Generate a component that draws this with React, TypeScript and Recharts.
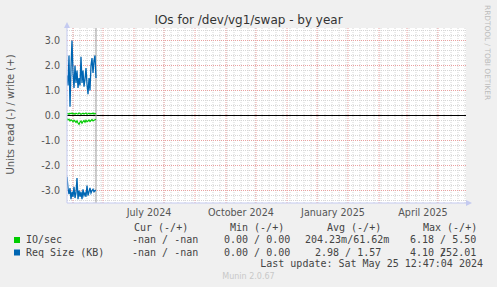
import React from "react";
import {
  LineChart,
  Line,
  XAxis,
  YAxis,
  CartesianGrid,
  ReferenceLine,
} from "recharts";

// days counted from 1 May 2024
const days = [
  -36, -35, -34, -33, -32, -31, -30, -29, -28, -27, -26, -25, -24, -23, -22,
  -21, -20, -19, -18, -17, -16, -15, -14, -13, -12, -11, -10, -9, -8, -7,
];

const reqWrite = [
  1.6, 1.2, 2.4, 0.35, 1.9, 3.0, 1.7, 1.1, 2.0, 1.3, 1.8, 1.1, 1.5, 1.2, 2.35,
  1.3, 1.8, 1.15, 1.45, 1.9, 1.25, 0.85, 1.5, 1.0, 2.0, 2.3, 1.7, 2.2, 2.4, 1.5,
];
const reqRead = [
  -2.45, -2.9, -3.15, -2.9, -3.35, -3.05, -3.25, -2.85, -3.3, -3.1, -2.5, -3.35,
  -3.0, -3.25, -3.05, -3.35, -2.95, -3.2, -3.1, -3.25, -2.8, -3.2, -3.05, -2.9,
  -3.1, -3.0, -2.95, -3.05, -3.0, -3.0,
];
const ioWrite = [
  0.06, 0.08, 0.05, 0.09, 0.07, 0.1, 0.06, 0.08, 0.05, 0.09, 0.07, 0.06, 0.1,
  0.08, 0.05, 0.07, 0.09, 0.06, 0.08, 0.1, 0.05, 0.07, 0.09, 0.06, 0.08, 0.07,
  0.1, 0.06, 0.08, 0.07,
];
const ioRead = [
  -0.12, -0.18, -0.15, -0.22, -0.17, -0.2, -0.25, -0.19, -0.23, -0.28, -0.21,
  -0.3, -0.35, -0.26, -0.22, -0.31, -0.24, -0.2, -0.27, -0.19, -0.25, -0.22,
  -0.18, -0.24, -0.2, -0.16, -0.22, -0.19, -0.17, -0.15,
];

const monthLines = [-30, 0, 31, 61, 92, 123, 153, 184, 214, 245, 276, 304, 335];
const monthLabelDays = [46, 138, 230, 320];
const monthLabels = ["July 2024", "October 2024", "January 2025", "April 2025"];
const yTicks = [-3, -2, -1, 0, 1, 2, 3];

const legendHeader = ["Cur (-/+)", "Min (-/+)", "Avg (-/+)", "Max (-/+)"];
const ioLegend = ["-nan / -nan", "0.00 / 0.00", "204.23m/61.62m", "6.18 / 5.50"];
const reqLegend = ["-nan / -nan", "0.00 / 0.00", "2.98 / 1.57", "4.10 252.01"];

const data = days.map((d, i) => ({
  day: d,
  ioWrite: ioWrite[i],
  ioRead: ioRead[i],
  reqWrite: reqWrite[i],
  reqRead: reqRead[i],
}));

// grid helpers (weekly / 0.2 steps)
const weekLines = Array.from({ length: 57 }, (_, i) => -30 + i * 7);
const minorY = Array.from({ length: 35 }, (_, i) => Math.round((-3.4 + i * 0.2) * 10) / 10).filter(
  (v) => !Number.isInteger(v)
);

const axisColor = "#c4caf0";
const mono = "DejaVu Sans Mono";

export default function App() {
  return (
    <div
      style={{
        position: "absolute",
        left: 0,
        top: 0,
        width: 497,
        height: 287,
        background: "#f0f0f0",
        fontFamily: "DejaVu Sans",
      }}
    >
      <LineChart
        width={497}
        height={287}
        data={data}
        margin={{ top: 28, right: 31, bottom: 54, left: 7 }}
      >
        <CartesianGrid fill="#ffffff" horizontal={false} vertical={false} />
        {weekLines.map((d) => (
          <ReferenceLine key={"w" + d} x={d} stroke="#d6d6d6" strokeDasharray="1 1" />
        ))}
        {minorY.map((v) => (
          <ReferenceLine key={"m" + v} y={v} stroke="#d6d6d6" strokeDasharray="1 1" />
        ))}
        {monthLines.map((d) => (
          <ReferenceLine key={"M" + d} x={d} stroke="#eaa0a0" strokeDasharray="1 1" />
        ))}
        {yTicks
          .filter((v) => v !== 0)
          .map((v) => (
            <ReferenceLine key={"Y" + v} y={v} stroke="#eaa0a0" strokeDasharray="1 1" />
          ))}
        <XAxis
          dataKey="day"
          type="number"
          domain={[-36, 363]}
          ticks={monthLabelDays}
          tickFormatter={(v) => monthLabels[monthLabelDays.indexOf(v)]}
          height={30}
          tickLine={false}
          tickSize={0}
          tickMargin={6}
          axisLine={{ stroke: axisColor }}
          tick={{ fill: "#555", fontSize: 9.6 }}
          allowDataOverflow
        />
        <YAxis
          type="number"
          domain={[-3.5, 3.5]}
          ticks={yTicks}
          tickFormatter={(v) => v.toFixed(1)}
          width={60}
          tickLine={false}
          tickSize={3}
          tickMargin={4}
          axisLine={{ stroke: axisColor }}
          tick={{ fill: "#555", fontSize: 9.6 }}
          allowDataOverflow
        />
        <ReferenceLine y={0} stroke="#000000" strokeWidth={1} />
        <ReferenceLine x={-7} stroke="#999999" strokeWidth={1} />
        <Line type="linear" dataKey="ioWrite" stroke="#00cc00" strokeWidth={1.2} dot={false} isAnimationActive={false} />
        <Line type="linear" dataKey="ioRead" stroke="#00cc00" strokeWidth={1.2} dot={false} isAnimationActive={false} />
        <Line type="linear" dataKey="reqWrite" stroke="#0066b3" strokeWidth={1.3} dot={false} isAnimationActive={false} />
        <Line type="linear" dataKey="reqRead" stroke="#0066b3" strokeWidth={1.3} dot={false} isAnimationActive={false} />
      </LineChart>
      <svg
        width={497}
        height={287}
        style={{ position: "absolute", left: 0, top: 0, pointerEvents: "none" }}
      >
        <polygon points="64,28 70,28 67,22" fill={axisColor} />
        <polygon points="466,200 466,206 472,203" fill={axisColor} />
        <text x={248.5} y={24} textAnchor="middle" fontSize={12} fill="#333">
          IOs for /dev/vg1/swap - by year
        </text>
        <text transform="translate(13.5,114.5) rotate(-90)" textAnchor="middle" fontSize={10} fill="#555">
          Units read (-) / write (+)
        </text>
        <text transform="translate(484.5,5) rotate(90)" fontSize={7.4} fill="#bbbbbb">
          RRDTOOL / TOBI OETIKER
        </text>
        <g fontFamily={mono} fontSize={10} fill="#444">
          {legendHeader.map((t, i) => (
            <text key={t} x={[134, 230, 327, 423][i]} y={231} style={{ whiteSpace: "pre" }}>
              {t}
            </text>
          ))}
          <rect x={14} y={237} width={6} height={6} fill="#00cc00" />
          <text x={26} y={243.3}>IO/sec</text>
          {ioLegend.map((t, i) => (
            <text key={"io" + i} x={[132, 224, 305, 410][i]} y={243.3} style={{ whiteSpace: "pre" }}>
              {t}
            </text>
          ))}
          <rect x={14} y={249.5} width={6} height={6} fill="#0066b3" />
          <text x={26} y={255.6} style={{ whiteSpace: "pre" }}>Req Size (KB)</text>
          {reqLegend.map((t, i) => (
            <text key={"rq" + i} x={[132, 224, 315, 410][i]} y={255.6} style={{ whiteSpace: "pre" }}>
              {t}
            </text>
          ))}
          <text x={440.1} y={255.6}>/</text>
          <text x={483} y={267.3} textAnchor="end" style={{ whiteSpace: "pre" }}>
            Last update: Sat May 25 12:47:04 2024
          </text>
        </g>
        <text x={248.5} y={279} textAnchor="middle" fontSize={8} fill="#c8c8c8">
          Munin 2.0.67
        </text>
      </svg>
    </div>
  );
}
